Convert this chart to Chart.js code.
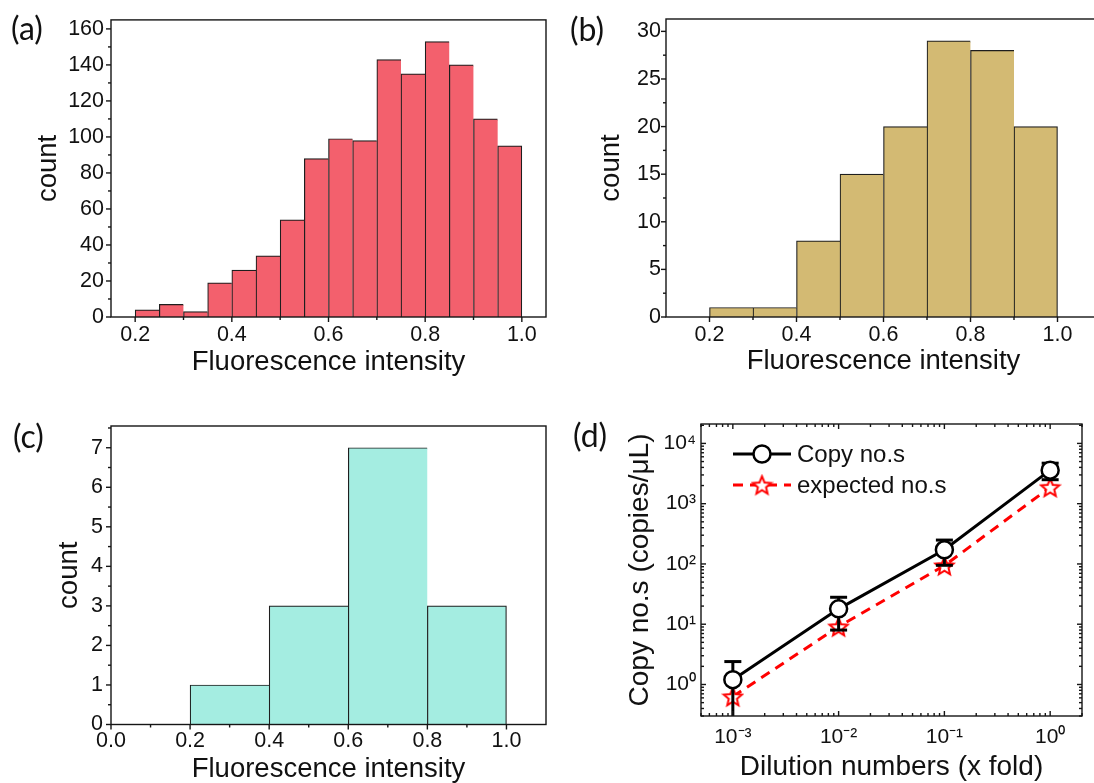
<!DOCTYPE html>
<html><head><meta charset="utf-8">
<script src="https://cdn.jsdelivr.net/npm/chart.js@4.4.1/dist/chart.umd.min.js"></script>
<style>
html,body{margin:0;padding:0;background:#fff;overflow:hidden;width:1094px;height:783px;position:relative;}
canvas{position:absolute;display:block;}
.lbl{position:absolute;font-family:Lato,'Open Sans',sans-serif;font-size:32px;line-height:1;color:#111;}
</style></head><body>
<canvas id="ca" width="560" height="391" style="left:0;top:0"></canvas>
<canvas id="cb" width="560" height="391" style="left:550px;top:0"></canvas>
<canvas id="cc" width="560" height="392" style="left:0;top:391px"></canvas>
<canvas id="cd" width="534" height="392" style="left:560px;top:391px"></canvas>
<div class="lbl" style="left:11px;top:12px">(a)</div>
<div class="lbl" style="left:570px;top:13px">(b)</div>
<div class="lbl" style="left:13px;top:420px">(c)</div>
<div class="lbl" style="left:573px;top:419px">(d)</div>
<script>
// ---- data ----
const binsA = [0.225,0.275,0.325,0.375,0.425,0.475,0.525,0.575,0.625,0.675,0.725,0.775,0.825,0.875,0.925,0.975];
const countsA = [4,7,3,19,26,34,54,88,99,98,143,135,153,140,110,95];
const binsB = [0.25,0.35,0.45,0.55,0.65,0.75,0.85,0.95];
const countsB = [1,1,8,15,20,29,28,20];
const binsC = [0.3,0.5,0.7,0.9];
const countsC = [1,3,7,3];
const dilution = [0.001,0.01,0.1,1];
const copyNos = [1.2,18,172,3600];
const copyErr = [1.2,10,77,1100];
const expectedNos = [0.63,9.1,94,1870];
const seriesNames = ['Copy no.s','expected no.s'];

// ---- tick values / labels ----
const xTicksHist = [0.2,0.4,0.6,0.8,1.0];
const xLabelsHist = ['0.2','0.4','0.6','0.8','1.0'];
const xMinorHist = [0.3,0.5,0.7,0.9];
const xTicksC = [0,0.2,0.4,0.6,0.8,1.0];
const xLabelsC = ['0.0','0.2','0.4','0.6','0.8','1.0'];
const xMinorC = [0.1,0.3,0.5,0.7,0.9];
const yTicksA = [0,20,40,60,80,100,120,140,160];
const yLabelsA = ['0','20','40','60','80','100','120','140','160'];
const yMinorA = [10,30,50,70,90,110,130,150];
const yTicksB = [0,5,10,15,20,25,30];
const yLabelsB = ['0','5','10','15','20','25','30'];
const yMinorB = [2.5,7.5,12.5,17.5,22.5,27.5];
const yTicksC = [0,1,2,3,4,5,6,7];
const yLabelsC = ['0','1','2','3','4','5','6','7'];
const yMinorC = [0.5,1.5,2.5,3.5,4.5,5.5,6.5,7.5];
const xTicksD = [0.001,0.01,0.1,1];
const xLabelsD = ['10\u207B\u00B3','10\u207B\u00B2','10\u207B\u00B9','10\u2070'];
const yTicksD = [1,10,100,1000,10000];
const yLabelsD = ['10\u2070','10\u00B9','10\u00B2','10\u00B3','10\u2074'];
function logMinor(e0, e1){ const out=[]; for(let e=e0;e<=e1;e++){ for(let k=2;k<=9;k++) out.push(k*Math.pow(10,e)); } return out; }
const xMinorD = logMinor(-4,0);
const yMinorD = logMinor(-1,4);

const FAM = "'Liberation Sans', Arial, Helvetica, sans-serif";
const tickFont = {family: FAM, size: 21.5};
const titleFont = {family: FAM, size: 27.5, lineHeight: 1};
const INK = '#111';

function framePlugin(s){
  return {
    id: 'frame',
    afterDraw(chart){
      const {ctx, chartArea: a} = chart;
      const xs = chart.scales.x, ys = chart.scales.y;
      const dir = s.inward ? -1 : 1;
      ctx.save();
      ctx.strokeStyle = '#151515'; ctx.lineWidth = 1.4; ctx.lineCap = 'butt';
      ctx.strokeRect(a.left, a.top, a.right - a.left, a.bottom - a.top);
      const inX = v => v >= xs.min - 1e-12 && v <= xs.max + 1e-12;
      const inY = v => v >= ys.min - 1e-12 && v <= ys.max + 1e-12;
      const tx = (vals, len) => vals.forEach(v => { if(!inX(v)) return; const p = xs.getPixelForValue(v);
        ctx.beginPath(); ctx.moveTo(p, a.bottom); ctx.lineTo(p, a.bottom + dir*len); ctx.stroke();
        if (s.mirror){ ctx.beginPath(); ctx.moveTo(p, a.top); ctx.lineTo(p, a.top - dir*len); ctx.stroke(); } });
      const ty = (vals, len) => vals.forEach(v => { if(!inY(v)) return; const p = ys.getPixelForValue(v);
        ctx.beginPath(); ctx.moveTo(a.left, p); ctx.lineTo(a.left - dir*len, p); ctx.stroke();
        if (s.mirror){ ctx.beginPath(); ctx.moveTo(a.right, p); ctx.lineTo(a.right + dir*len, p); ctx.stroke(); } });
      tx(s.xTicks, 5); tx(s.xMinor, 3); ty(s.yTicks, 5); ty(s.yMinor, 3);
      ctx.restore();
    }
  };
}

function histChart(id, bins, counts, color, s){
  return new Chart(document.getElementById(id), {
    type: 'bar',
    data: { datasets: [{
      data: bins.map((b,i) => ({x: b, y: counts[i]})),
      backgroundColor: color, borderColor: '#1e1e1e',
      borderWidth: c => ({top: 1.2, left: 1.2, bottom: 0, right: c.dataIndex === bins.length - 1 ? 1.2 : 0}),
      borderSkipped: false, barPercentage: 1, categoryPercentage: 1
    }]},
    options: {
      responsive: false, animation: false, devicePixelRatio: 1,
      layout: {padding: s.pad},
      plugins: {legend: {display: false}, tooltip: {enabled: false}},
      scales: {
        x: {
          type: 'linear', min: s.xMin, max: s.xMax, offset: false,
          grid: {display: false, drawTicks: false}, border: {display: false},
          afterBuildTicks: sc => { sc.ticks = s.xTicks.map(v => ({value: v})); },
          ticks: {callback: (v, i) => s.xLabels[i], padding: s.xTickPad, font: tickFont, color: INK, autoSkip: false, maxRotation: 0},
          title: {display: true, text: 'Fluorescence intensity', font: titleFont, color: INK, padding: {top: 0, bottom: s.xTitlePad}},
          afterFit: sc => { sc.height = s.xH; }
        },
        y: {
          min: 0, max: s.yMax,
          grid: {display: false, drawTicks: false}, border: {display: false},
          afterBuildTicks: sc => { sc.ticks = s.yTicks.map(v => ({value: v})); },
          ticks: {callback: (v, i) => s.yLabels[i], padding: s.yTickPad, font: tickFont, color: INK, autoSkip: false},
          title: {display: true, text: 'count', font: titleFont, color: INK, padding: {top: s.yTitlePad, bottom: 0}},
          afterFit: sc => { sc.width = s.yW; }
        }
      }
    },
    plugins: [framePlugin(s)]
  });
}

histChart('ca', binsA, countsA, '#F3606D', {
  pad: {left: 0, top: 19, right: 14, bottom: 0}, xMin: 0.15, xMax: 1.05, yMax: 165,
  xTicks: xTicksHist, xLabels: xLabelsHist, xMinor: xMinorHist,
  yTicks: yTicksA, yLabels: yLabelsA, yMinor: yMinorA,
  xH: 74, yW: 111, xTickPad: 5, xTitlePad: 15, yTickPad: 7, yTitlePad: 35
});
histChart('cb', binsB, countsB, '#D3BA73', {
  pad: {left: 0, top: 19, right: 9, bottom: 0}, xMin: 0.1, xMax: 1.1, yMax: 31.3,
  xTicks: xTicksHist, xLabels: xLabelsHist, xMinor: xMinorHist,
  yTicks: yTicksB, yLabels: yLabelsB, yMinor: yMinorB,
  xH: 74, yW: 116, xTickPad: 5, xTitlePad: 16, yTickPad: 5, yTitlePad: 48
});
histChart('cc', binsC, countsC, '#A4EDE1', {
  pad: {left: 0, top: 35, right: 14, bottom: 0}, xMin: 0, xMax: 1.1, yMax: 7.55,
  xTicks: xTicksC, xLabels: xLabelsC, xMinor: xMinorC,
  yTicks: yTicksC, yLabels: yLabelsC, yMinor: yMinorC,
  xH: 58.5, yW: 111, xTickPad: 4, xTitlePad: 0, yTickPad: 8, yTitlePad: 56
});

// ---- panel (d) ----
function makeStar(r, color){
  const s = Math.ceil(2*r + 4);
  const c = document.createElement('canvas'); c.width = s; c.height = s;
  const g = c.getContext('2d');
  g.translate(s/2, s/2 + r*0.1);
  g.beginPath();
  for (let k = 0; k < 10; k++){
    const rr = (k % 2) ? r*0.45 : r;
    const ang = -Math.PI/2 + k*Math.PI/5;
    g.lineTo(rr*Math.cos(ang), rr*Math.sin(ang));
  }
  g.closePath(); g.fillStyle = '#fff'; g.fill();
  g.lineWidth = 2; g.strokeStyle = color; g.lineJoin = 'miter'; g.stroke();
  return c;
}
const starImg = makeStar(9.5, '#ff0000');

const errorBars = {
  id: 'errorBars',
  beforeDatasetDraw(chart, args){
    if (args.index !== 0) return;
    const {ctx, chartArea: a} = chart;
    const xs = chart.scales.x, ys = chart.scales.y;
    ctx.save();
    ctx.beginPath(); ctx.rect(a.left, a.top, a.right - a.left, a.bottom - a.top); ctx.clip();
    ctx.strokeStyle = '#000'; ctx.lineWidth = 3;
    dilution.forEach((d, i) => {
      const px = xs.getPixelForValue(d);
      const hi = copyNos[i] + copyErr[i], lo = copyNos[i] - copyErr[i];
      const pHi = ys.getPixelForValue(hi);
      const pLo = lo > 0 ? ys.getPixelForValue(lo) : a.bottom + 5;
      ctx.beginPath(); ctx.moveTo(px, pLo); ctx.lineTo(px, pHi); ctx.stroke();
      ctx.beginPath(); ctx.moveTo(px - 8.5, pHi); ctx.lineTo(px + 8.5, pHi); ctx.stroke();
      if (lo > 0){ ctx.beginPath(); ctx.moveTo(px - 8.5, pLo); ctx.lineTo(px + 8.5, pLo); ctx.stroke(); }
    });
    ctx.restore();
  }
};

const legendD = {
  id: 'legendD',
  afterDraw(chart){
    const {ctx, chartArea: a} = chart;
    chart.data.datasets.forEach((ds, i) => {
      const y = a.top + 30 + i*31;
      const x0 = a.left + 32, x1 = a.left + 90, xm = (x0 + x1)/2;
      ctx.save();
      ctx.strokeStyle = ds.borderColor; ctx.lineWidth = ds.borderWidth;
      ctx.setLineDash(ds.borderDash || []);
      ctx.beginPath(); ctx.moveTo(x0, y); ctx.lineTo(x1, y); ctx.stroke();
      ctx.setLineDash([]);
      if (typeof ds.pointStyle === 'object'){
        ctx.drawImage(ds.pointStyle, xm - ds.pointStyle.width/2, y - ds.pointStyle.height/2);
      } else {
        ctx.beginPath(); ctx.arc(xm, y, ds.pointRadius, 0, Math.PI*2);
        ctx.fillStyle = ds.pointBackgroundColor; ctx.fill();
        ctx.lineWidth = ds.pointBorderWidth; ctx.strokeStyle = ds.pointBorderColor; ctx.stroke();
      }
      ctx.fillStyle = INK; ctx.font = '24px ' + FAM; ctx.textBaseline = 'middle'; ctx.textAlign = 'left';
      ctx.fillText(ds.label, a.left + 96, y + 1);
      ctx.restore();
    });
  }
};

new Chart(document.getElementById('cd'), {
  type: 'line',
  data: { datasets: [
    { label: seriesNames[0], data: dilution.map((d, i) => ({x: d, y: copyNos[i]})),
      borderColor: '#000', borderWidth: 3, tension: 0,
      pointStyle: 'circle', pointRadius: 8.5, pointBackgroundColor: '#fff', pointBorderColor: '#000', pointBorderWidth: 2.5 },
    { label: seriesNames[1], data: dilution.map((d, i) => ({x: d, y: expectedNos[i]})),
      borderColor: '#ff0000', borderWidth: 3, borderDash: [10, 7], tension: 0,
      pointStyle: starImg, pointRadius: 9 }
  ]},
  options: {
    responsive: false, animation: false, devicePixelRatio: 1,
    layout: {padding: {left: 0, top: 33, right: 1, bottom: 0}},
    plugins: {legend: {display: false}, tooltip: {enabled: false}},
    scales: {
      x: {
        type: 'logarithmic', min: 5e-4, max: 2,
        grid: {display: false, drawTicks: false}, border: {display: false},
        afterBuildTicks: sc => { sc.ticks = xTicksD.map(v => ({value: v})); },
        ticks: {callback: (v, i) => xLabelsD[i], padding: 8.5, font: {family: FAM, size: 21}, color: INK, autoSkip: false, maxRotation: 0},
        title: {display: true, text: 'Dilution numbers (x fold)', font: {family: FAM, size: 28, lineHeight: 1}, color: INK, padding: {top: 0, bottom: 2}},
        afterFit: sc => { sc.height = 67; }
      },
      y: {
        type: 'logarithmic', min: 0.315, max: 2.1e4,
        grid: {display: false, drawTicks: false}, border: {display: false},
        afterBuildTicks: sc => { sc.ticks = yTicksD.map(v => ({value: v})); },
        ticks: {callback: (v, i) => yLabelsD[i], padding: 5, font: {family: FAM, size: 21}, color: INK, autoSkip: false},
        title: {display: true, text: 'Copy no.s (copies/\u03BCL)', font: {family: FAM, size: 28, lineHeight: 1}, color: INK, padding: {top: 66, bottom: 0}},
        afterFit: sc => { sc.width = 141; }
      }
    }
  },
  plugins: [errorBars, framePlugin({inward: true, mirror: true, xTicks: xTicksD, xMinor: xMinorD, yTicks: yTicksD, yMinor: yMinorD}), legendD]
});
</script>
</body></html>
